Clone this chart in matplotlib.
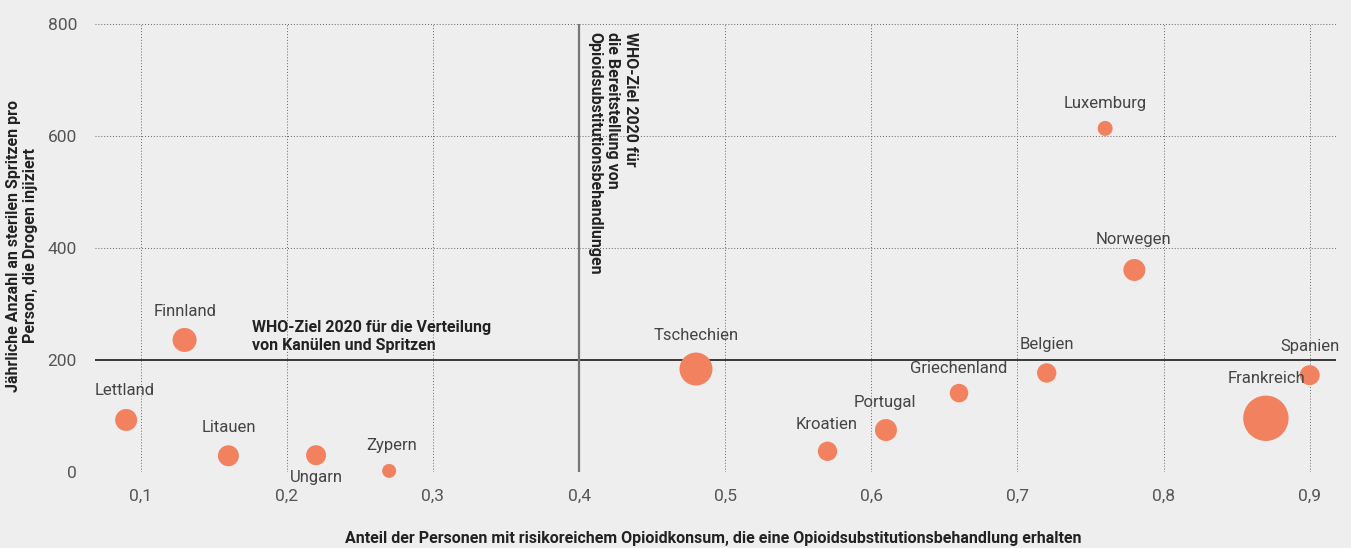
import matplotlib.pyplot as plt

plt.rcParams['font.family'] = ['Roboto', 'DejaVu Sans']

# Daten
laender = ['Lettland', 'Finnland', 'Litauen', 'Ungarn', 'Zypern', 'Tschechien', 'Kroatien',
           'Portugal', 'Griechenland', 'Belgien', 'Luxemburg', 'Norwegen', 'Frankreich', 'Spanien']
anteil_ost = [0.09, 0.13, 0.16, 0.22, 0.27, 0.48, 0.57, 0.61, 0.66, 0.72, 0.76, 0.78, 0.87, 0.90]
spritzen = [93, 236, 29, 30, 2, 184, 37, 75, 141, 177, 614, 361, 96, 173]
groesse = [121, 144, 110, 100, 49, 272, 94, 121, 86, 94, 56, 121, 515, 100]

x_ticks = [0.1, 0.2, 0.3, 0.4, 0.5, 0.6, 0.7, 0.8, 0.9]
x_ticklabels = ['0,1', '0,2', '0,3', '0,4', '0,5', '0,6', '0,7', '0,8', '0,9']
y_ticks = [0, 200, 400, 600, 800]

who_x = 0.4
who_y = 200

# Beschriftungsversatz in Pixeln
label_offset = {'Lettland': (-1, 29), 'Finnland': (0, 28), 'Litauen': (0, 28), 'Ungarn': (0, -22),
                'Zypern': (2, 25), 'Tschechien': (0, 34), 'Kroatien': (-1, 27), 'Portugal': (-1, 28),
                'Griechenland': (0, 25), 'Belgien': (0, 28), 'Luxemburg': (0, 25), 'Norwegen': (-1, 30),
                'Frankreich': (1, 40), 'Spanien': (0, 29)}

bg = '#eeeeee'
fig = plt.figure(figsize=(13.51, 5.48), dpi=100, facecolor=bg)
ax = fig.add_axes([95 / 1351, 1 - 472 / 548, (1336 - 95) / 1351, (472 - 24.3) / 548])
ax.set_facecolor(bg)

ax.set_xlim(0.0687, 0.918)
ax.set_ylim(0, 800)

for s in ax.spines.values():
    s.set_visible(False)

# Gitterlinien
for yt in y_ticks:
    if yt != who_y:
        ax.axhline(yt, color='#666666', lw=0.7, ls=(0, (1, 2)), zorder=1)
for xt in x_ticks:
    if abs(xt - who_x) > 1e-9:
        ax.axvline(xt, color='#666666', lw=0.7, ls=(0, (1, 2)), zorder=1)

ax.axhline(who_y, color='#1a1a1a', lw=1.2, zorder=2)
ax.axvline(who_x, color='#777777', lw=1.6, zorder=2)

sizes = [g * (2 * 0.72) ** 2 for g in groesse]
ax.scatter(anteil_ost, spritzen, s=sizes, color='#f2825f', edgecolor='none', zorder=3, clip_on=False)

for name, x, y in zip(laender, anteil_ost, spritzen):
    dx, dy = label_offset[name]
    ax.annotate(name, (x, y), xytext=(dx, dy), textcoords='offset pixels',
                ha='center', va='center', fontsize=12, color='#444444', zorder=4,
                annotation_clip=False)

ax.text(0.176, 212, 'WHO-Ziel 2020 für die Verteilung\nvon Kanülen und Spritzen',
        fontsize=11.5, fontweight='bold', color='#222222', ha='left', va='bottom', linespacing=1.25)
ax.text(0.423, 786, 'WHO-Ziel 2020 für\ndie Bereitstellung von\nOpioidsubstitutionsbehandlungen',
        fontsize=11.5, fontweight='bold', color='#222222', rotation=270, ha='center', va='top',
        multialignment='left', linespacing=1.2)

ax.set_xticks(x_ticks)
ax.set_xticklabels(x_ticklabels)
ax.set_yticks(y_ticks)
ax.tick_params(length=0, labelsize=12.5, labelcolor='#555555')
ax.tick_params(axis='x', pad=12)
ax.tick_params(axis='y', pad=13)

fig.text(22 / 1351, 1 - 246 / 548, 'Jährliche Anzahl an sterilen Spritzen pro\nPerson, die Drogen injiziert',
         rotation=90, ha='center', va='center', fontsize=11.5, fontweight='bold', color='#222222',
         linespacing=1.2)
fig.text(713 / 1351, 1 - 538 / 548,
         'Anteil der Personen mit risikoreichem Opioidkonsum, die eine Opioidsubstitutionsbehandlung erhalten',
         ha='center', va='center', fontsize=11.5, fontweight='bold', color='#222222')

fig.savefig('out.png', dpi=100, facecolor=bg)
